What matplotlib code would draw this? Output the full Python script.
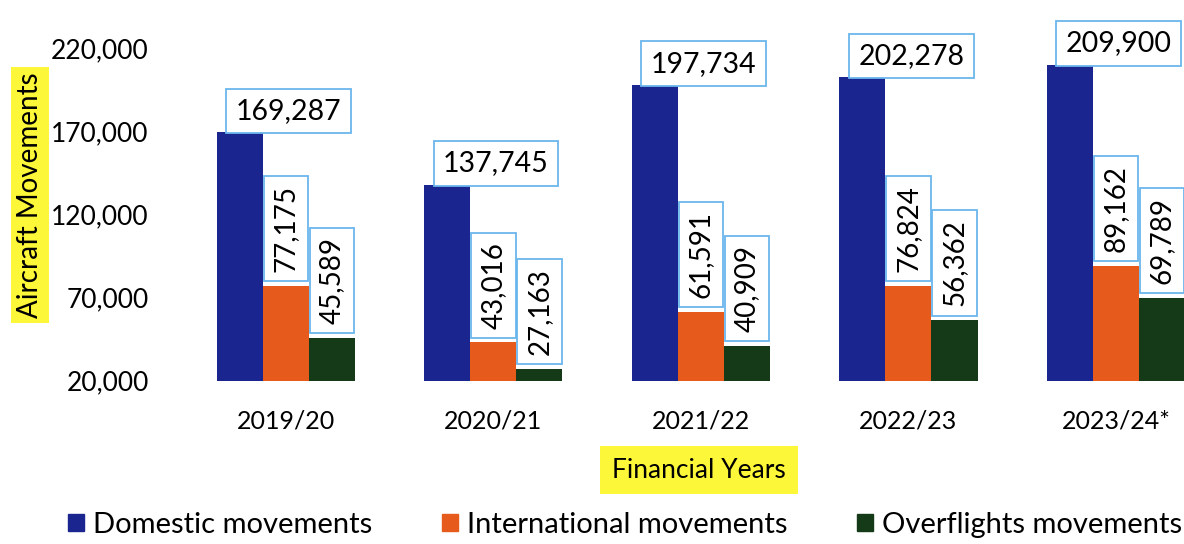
import matplotlib.pyplot as plt
import numpy as np
from matplotlib.patches import Patch

# data
years = ['2019/20', '2020/21', '2021/22', '2022/23', '2023/24*']
domestic = [169287, 137745, 197734, 202278, 209900]
international = [77175, 43016, 61591, 76824, 89162]
overflights = [45589, 27163, 40909, 56362, 69789]
series_names = ['Domestic movements', 'International movements', 'Overflights movements']
colors = ['#1b2590', '#e65a1c', '#143a17']
yticks = [20000, 70000, 120000, 170000, 220000]

plt.rcParams['font.family'] = ['Lato', 'DejaVu Sans']

fig = plt.figure(figsize=(11.84, 5.44), dpi=100)
ax = fig.add_axes([0.135, 0.30, 0.865, 0.612])

x = np.arange(len(years))
w = 0.222
box_h = dict(boxstyle='square,pad=0.33', fc='white', ec='#6bb6ee', lw=1.3)
box_v = dict(boxstyle='square,pad=0.33', fc='white', ec='#6bb6ee', lw=1.3)

for k, vals in enumerate([domestic, international, overflights]):
    pos = x + (k - 1) * w
    ax.bar(pos, vals, w, color=colors[k], label=series_names[k])
    for xi, v in zip(pos, vals):
        if k == 0:
            # horizontal label up and to the right of the domestic bar
            ax.annotate(f'{v:,}', (xi, v), xytext=(-3, 6), textcoords='offset points',
                        ha='left', va='bottom', fontsize=20.5, bbox=box_h, annotation_clip=False)
        else:
            ax.annotate(f'{v:,}', (xi, v), xytext=(0, 10), textcoords='offset points',
                        ha='center', va='bottom', rotation=90, fontsize=20, bbox=box_v,
                        annotation_clip=False)

ax.set_ylim(20000, 220000)
ax.set_xlim(-0.607, 4.328)
ax.set_yticks(yticks)
ax.set_yticklabels([f'{t:,}' for t in yticks], fontsize=19)
ax.set_xticks(x)
ax.set_xticklabels(years, fontsize=18)
ax.tick_params(length=0)
ax.tick_params(axis='y', pad=8)
ax.tick_params(axis='x', pad=21)
for s in ax.spines.values():
    s.set_visible(False)

fig.text(30 / 1184, 1 - 195 / 544, 'Aircraft Movements', rotation=90, ha='center', va='center',
         fontsize=20, bbox=dict(boxstyle='square,pad=0.2', fc='#fdf73a', ec='none'))
fig.text(699 / 1184, 1 - 470 / 544, 'Financial Years', ha='center', va='center', fontsize=19,
         bbox=dict(boxstyle='square,pad=0.45', fc='#fdf73a', ec='none'))

handles = [Patch(color=c) for c in colors]
fig.legend(handles, series_names, loc='center', bbox_to_anchor=(625 / 1184, 1 - 525 / 544), ncol=3,
           frameon=False, fontsize=21, handlelength=0.55, handleheight=0.55, handletextpad=0.3,
           columnspacing=2.4)

plt.savefig('out.png', dpi=100)
